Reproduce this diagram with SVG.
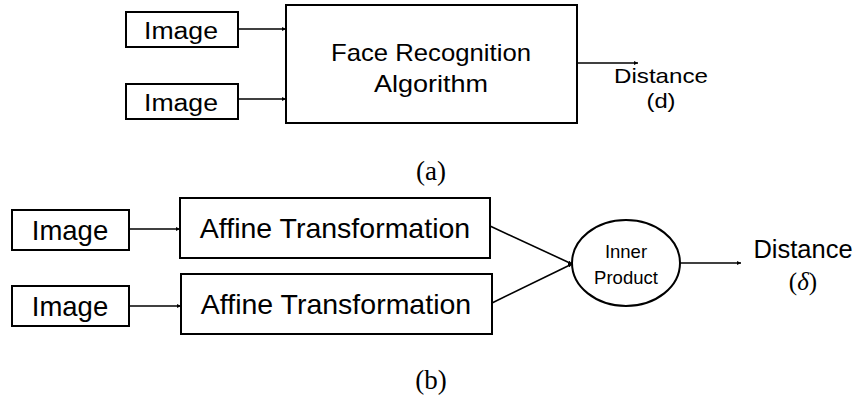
<svg xmlns="http://www.w3.org/2000/svg" width="859" height="398" viewBox="0 0 859 398">
  <style>
    .box { fill: #fff; stroke: #000; stroke-width: 2; }
    .edge { fill: none; stroke: #000; stroke-width: 1.6; }
    .t { font-family: "Liberation Sans", Arial, sans-serif; fill: #000; text-anchor: middle; }
    .cap { font-family: "Liberation Serif", "Times New Roman", serif; font-size: 27px; fill: #000; text-anchor: middle; }
  </style>
  <defs>
    <marker id="arrow" viewBox="0 0 10 10" refX="10" refY="5" markerWidth="4" markerHeight="4" markerUnits="userSpaceOnUse" orient="auto">
      <path d="M0,0 L10,5 L0,10 z" fill="#000"/>
    </marker>
  </defs>

  <rect width="859" height="398" fill="#fff"/>

  <!-- (a): recognition pipeline -->
  <g id="img-a1">
    <rect class="box" x="126" y="12" width="112" height="35"/>
    <text class="t" x="181" y="38.5" font-size="23.5" textLength="74" lengthAdjust="spacingAndGlyphs">Image</text>
  </g>
  <g id="img-a2">
    <rect class="box" x="126" y="84" width="112" height="35"/>
    <text class="t" x="181" y="110.5" font-size="23.5" textLength="74" lengthAdjust="spacingAndGlyphs">Image</text>
  </g>
  <g id="face-rec">
    <rect class="box" x="286" y="5" width="291" height="118"/>
    <text class="t" x="431" y="61" font-size="24" textLength="200" lengthAdjust="spacingAndGlyphs">Face Recognition</text>
    <text class="t" x="431" y="92" font-size="24" textLength="114" lengthAdjust="spacingAndGlyphs">Algorithm</text>
  </g>
  <g id="dist-a">
    <text class="t" x="661" y="83" font-size="21" textLength="94" lengthAdjust="spacingAndGlyphs">Distance</text>
    <text class="t" x="661" y="108" font-size="21" textLength="29" lengthAdjust="spacingAndGlyphs">(d)</text>
  </g>
  <text class="cap" x="431" y="180">(a)</text>

  <!-- (b): affine + inner product pipeline -->
  <g id="img-b1">
    <rect class="box" x="12" y="210" width="117" height="40"/>
    <text class="t" x="70" y="240" font-size="27.5">Image</text>
  </g>
  <g id="img-b2">
    <rect class="box" x="12" y="286" width="117" height="40"/>
    <text class="t" x="70" y="316" font-size="27.5">Image</text>
  </g>
  <g id="affine-1">
    <rect class="box" x="180" y="198" width="310" height="60"/>
    <text class="t" x="335" y="238" font-size="28.5">Affine Transformation</text>
  </g>
  <g id="affine-2">
    <rect class="box" x="181" y="274" width="311" height="60"/>
    <text class="t" x="336" y="314" font-size="28.5">Affine Transformation</text>
  </g>
  <g id="inner-product">
    <ellipse class="box" cx="626" cy="263" rx="54" ry="43"/>
    <text class="t" x="626" y="258" font-size="18.5">Inner</text>
    <text class="t" x="626" y="284" font-size="18.5">Product</text>
  </g>
  <g id="dist-b">
    <text class="t" x="803" y="258" font-size="25.5">Distance</text>
    <text x="803" y="290" font-family="'Liberation Serif', 'Times New Roman', serif" font-size="25" text-anchor="middle">(<tspan font-style="italic">δ</tspan>)</text>
  </g>
  <text class="cap" x="431" y="389">(b)</text>

  <g id="connectors">
    <line class="edge" x1="238" y1="29" x2="286" y2="29" marker-end="url(#arrow)"/>
    <line class="edge" x1="238" y1="99" x2="286" y2="99" marker-end="url(#arrow)"/>
    <line class="edge" x1="577" y1="63" x2="638" y2="63" marker-end="url(#arrow)"/>
    <line class="edge" x1="129" y1="229" x2="180" y2="229" marker-end="url(#arrow)"/>
    <line class="edge" x1="129" y1="306" x2="181" y2="306" marker-end="url(#arrow)"/>
    <line class="edge" x1="490" y1="226" x2="572" y2="264" marker-end="url(#arrow)"/>
    <line class="edge" x1="492" y1="303" x2="572" y2="264" marker-end="url(#arrow)"/>
    <line class="edge" x1="680" y1="263" x2="741" y2="263" marker-end="url(#arrow)"/>
  </g>
</svg>
